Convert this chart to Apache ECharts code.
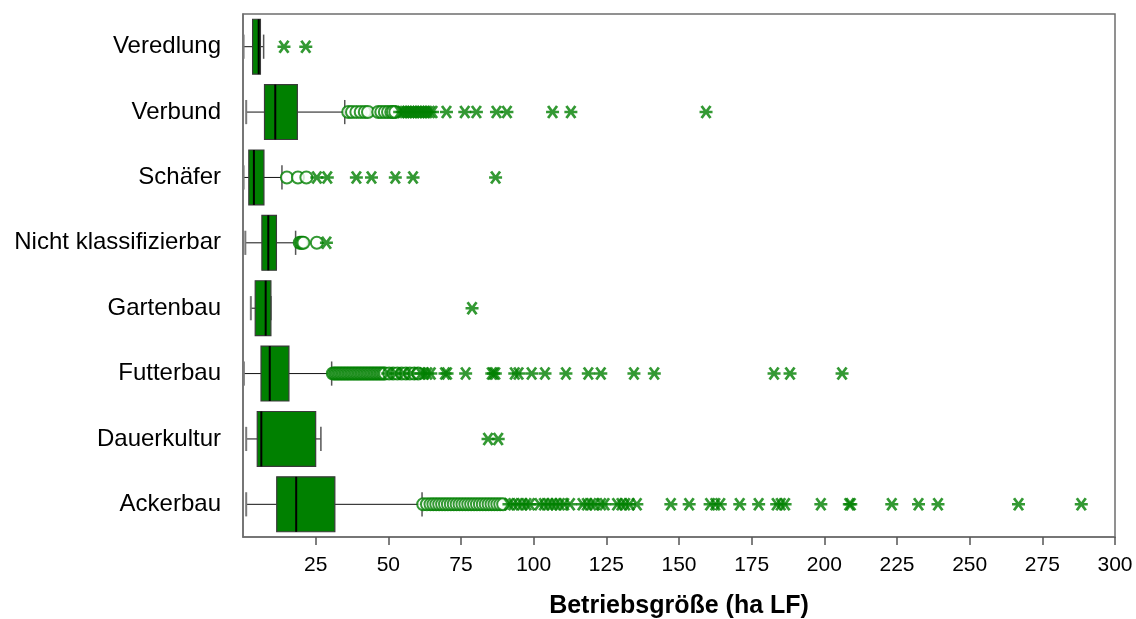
<!DOCTYPE html>
<html>
<head>
<meta charset="utf-8">
<script src="https://cdn.jsdelivr.net/npm/echarts@6/dist/echarts.min.js"></script>
<style>html,body{margin:0;padding:0;background:#fff}#chart{width:1136px;height:619px}</style>
</head>
<body>
<div id="chart"></div>
<script>
// Categories (top to bottom)
const categories = ['Veredlung','Verbund','Schäfer','Nicht klassifizierbar','Gartenbau','Futterbau','Dauerkultur','Ackerbau'];
// Box statistics [min whisker, Q1, median, Q3, max whisker]
const boxVeredlung = [0.2, 3.3, 5.4, 6.0, 7.1];
const boxVerbund = [1.1, 7.4, 11.1, 18.7, 35.0];
const boxSchaefer = [0.2, 2.0, 3.75, 7.2, 13.4];
const boxNichtKlass = [0.8, 6.5, 8.7, 11.5, 18.1];
const boxGartenbau = [2.7, 4.2, 7.8, 9.6, 9.6];
const boxFutterbau = [0.3, 6.2, 9.2, 15.8, 30.5];
const boxDauerkultur = [1.1, 4.9, 6.3, 25.0, 26.8];
const boxAckerbau = [1.1, 11.6, 18.3, 31.6, 61.6];
// Outliers (circles) and extreme values (stars)
const circVeredlung = [];
const starVeredlung = [14.1, 21.6];
const circVerbund = [36.2, 37.5, 39.0, 40.5, 41.9, 43.0, 46.5, 47.6, 48.8, 49.9, 51.0, 51.6, 52.4];
const starVerbund = [53.9, 54.8, 55.6, 56.5, 57.4, 58.2, 59.0, 59.9, 60.8, 61.6, 62.5, 63.4, 64.3, 65.2, 70.0, 76.3, 80.3, 87.2, 90.8, 106.5, 112.8, 159.3];
const circSchaefer = [15.1, 18.9, 21.8];
const starSchaefer = [25.4, 29.0, 39.0, 44.2, 52.4, 58.5, 86.9];
const circNichtKlass = [19.5, 20.0, 20.4, 20.8, 25.4];
const starNichtKlass = [28.7];
const circGartenbau = [];
const starGartenbau = [78.8];
const circFutterbau = [30.9, 31.4, 31.9, 32.4, 32.9, 33.4, 33.9, 34.4, 34.9, 35.4, 35.9, 36.4, 36.9, 37.4, 37.9, 38.4, 38.9, 39.4, 39.9, 40.4, 40.9, 41.4, 41.9, 42.4, 42.9, 43.4, 43.9, 44.4, 44.9, 45.4, 45.9, 46.4, 46.9, 47.4, 47.9, 48.4, 48.9, 50.3, 51.7, 53.1, 54.6, 56.0, 57.4, 58.9, 60.3];
const starFutterbau = [49.8, 52.5, 55.2, 57.9, 61.2, 62.3, 63.4, 64.6, 69.5, 70.2, 76.6, 85.6, 86.2, 86.8, 93.5, 94.8, 99.3, 103.9, 111.1, 118.8, 123.1, 134.5, 141.5, 182.7, 188.2, 206.1];
const circDauerkultur = [];
const starDauerkultur = [84.3, 87.8];
const circAckerbau = [62.0, 63.3, 64.5, 65.5, 66.5, 67.5, 68.5, 69.5, 70.5, 71.5, 72.5, 73.5, 74.5, 75.5, 76.5, 77.5, 78.5, 79.5, 80.5, 81.5, 82.5, 83.5, 84.5, 85.5, 86.5, 87.5, 88.5, 89.5];
const starAckerbau = [91.5, 93.0, 94.5, 96.0, 97.5, 98.7, 102.0, 103.5, 105.0, 106.3, 107.6, 109.0, 110.5, 112.5, 116.8, 118.3, 119.8, 121.0, 123.2, 124.4, 128.7, 130.2, 131.5, 133.0, 135.5, 147.2, 153.5, 160.7, 162.5, 164.2, 170.9, 177.4, 183.6, 185.0, 186.5, 198.8, 208.6, 209.1, 223.2, 232.4, 239.1, 266.8, 288.4];
// Axis tick labels
const xTicks = [25, 50, 75, 100, 125, 150, 175, 200, 225, 250, 275, 300];
const xTitle = 'Betriebsgröße (ha LF)';

const boxes = [boxVeredlung, boxVerbund, boxSchaefer, boxNichtKlass, boxGartenbau, boxFutterbau, boxDauerkultur, boxAckerbau];
const circles = [circVeredlung, circVerbund, circSchaefer, circNichtKlass, circGartenbau, circFutterbau, circDauerkultur, circAckerbau];
const stars = [starVeredlung, starVerbund, starSchaefer, starNichtKlass, starGartenbau, starFutterbau, starDauerkultur, starAckerbau];

const GREEN = '#008000';
const boxData = boxes.map((b, i) => [i].concat(b));
const circData = [];
circles.forEach((arr, i) => arr.forEach(v => circData.push([v, i])));
const starData = [];
stars.forEach((arr, i) => arr.forEach(v => starData.push([v, i])));

const chart = echarts.init(document.getElementById('chart'), null, {renderer: 'canvas'});
chart.setOption({
  animation: false,
  backgroundColor: '#fff',
  grid: {left: 243, right: 21, top: 14, bottom: 82, containLabel: false, outerBoundsMode: 'none', show: true, borderColor: '#6e6e6e', borderWidth: 1.5},
  xAxis: {
    type: 'value', min: 0, max: 300, interval: 25,
    name: xTitle, nameLocation: 'middle', nameGap: 57,
    nameTextStyle: {fontFamily: 'Liberation Sans, Arial, sans-serif', fontWeight: 'bold', fontSize: 25, color: '#000'},
    axisLine: {show: true, lineStyle: {color: '#6e6e6e', width: 1.5}},
    axisTick: {show: true, length: 8, customValues: xTicks, lineStyle: {color: '#555', width: 1.5}},
    axisLabel: {customValues: xTicks, margin: 18, fontFamily: 'Liberation Sans, Arial, sans-serif', fontSize: 21, color: '#000'},
    splitLine: {show: false}
  },
  yAxis: {
    type: 'category', data: categories, inverse: true,
    axisLine: {show: true, lineStyle: {color: '#6e6e6e', width: 1.5}},
    axisTick: {show: false},
    axisLabel: {margin: 22, fontFamily: 'Liberation Sans, Arial, sans-serif', fontSize: 24, color: '#000'},
    splitLine: {show: false}
  },
  series: [
    {
      type: 'custom',
      data: boxData,
      encode: {x: [1, 2, 3, 4, 5], y: 0},
      z: 2,
      renderItem: function (params, api) {
        const cat = api.value(0);
        const lo = api.coord([api.value(1), cat]);
        const q1 = api.coord([api.value(2), cat]);
        const md = api.coord([api.value(3), cat]);
        const q3 = api.coord([api.value(4), cat]);
        const hi = api.coord([api.value(5), cat]);
        const band = api.size([0, 1])[1];
        const bh = band * 0.84;
        const ch = band * 0.37;
        const y = lo[1];
        return {
          type: 'group',
          children: [
            {type: 'line', shape: {x1: lo[0], y1: y, x2: q1[0], y2: y}, style: {stroke: '#111', lineWidth: 1}},
            {type: 'line', shape: {x1: q3[0], y1: y, x2: hi[0], y2: y}, style: {stroke: '#111', lineWidth: 1}},
            {type: 'line', shape: {x1: lo[0], y1: y - ch / 2, x2: lo[0], y2: y + ch / 2}, style: {stroke: '#7a7a7a', lineWidth: 2}},
            {type: 'line', shape: {x1: hi[0], y1: y - ch / 2, x2: hi[0], y2: y + ch / 2}, style: {stroke: '#555', lineWidth: 1.5}},
            {type: 'rect', shape: {x: q1[0], y: y - bh / 2, width: q3[0] - q1[0], height: bh}, style: {fill: GREEN, stroke: '#3a3a3a', lineWidth: 1.2}},
            {type: 'line', shape: {x1: md[0], y1: y - bh / 2, x2: md[0], y2: y + bh / 2}, style: {stroke: '#000', lineWidth: 2}}
          ]
        };
      }
    },
    {
      type: 'scatter',
      data: circData,
      symbol: 'emptyCircle',
      symbolSize: 12,
      z: 3,
      itemStyle: {color: GREEN, borderColor: GREEN, borderWidth: 1.8}
    },
    {
      type: 'scatter',
      data: starData,
      symbol: 'path://M0,6L13,6M2,0L11,12M11,0L2,12',
      symbolSize: [13, 12],
      z: 4,
      itemStyle: {color: 'rgba(0,0,0,0)', borderColor: GREEN, borderWidth: 2.6}
    }
  ]
});
</script>
</body>
</html>
